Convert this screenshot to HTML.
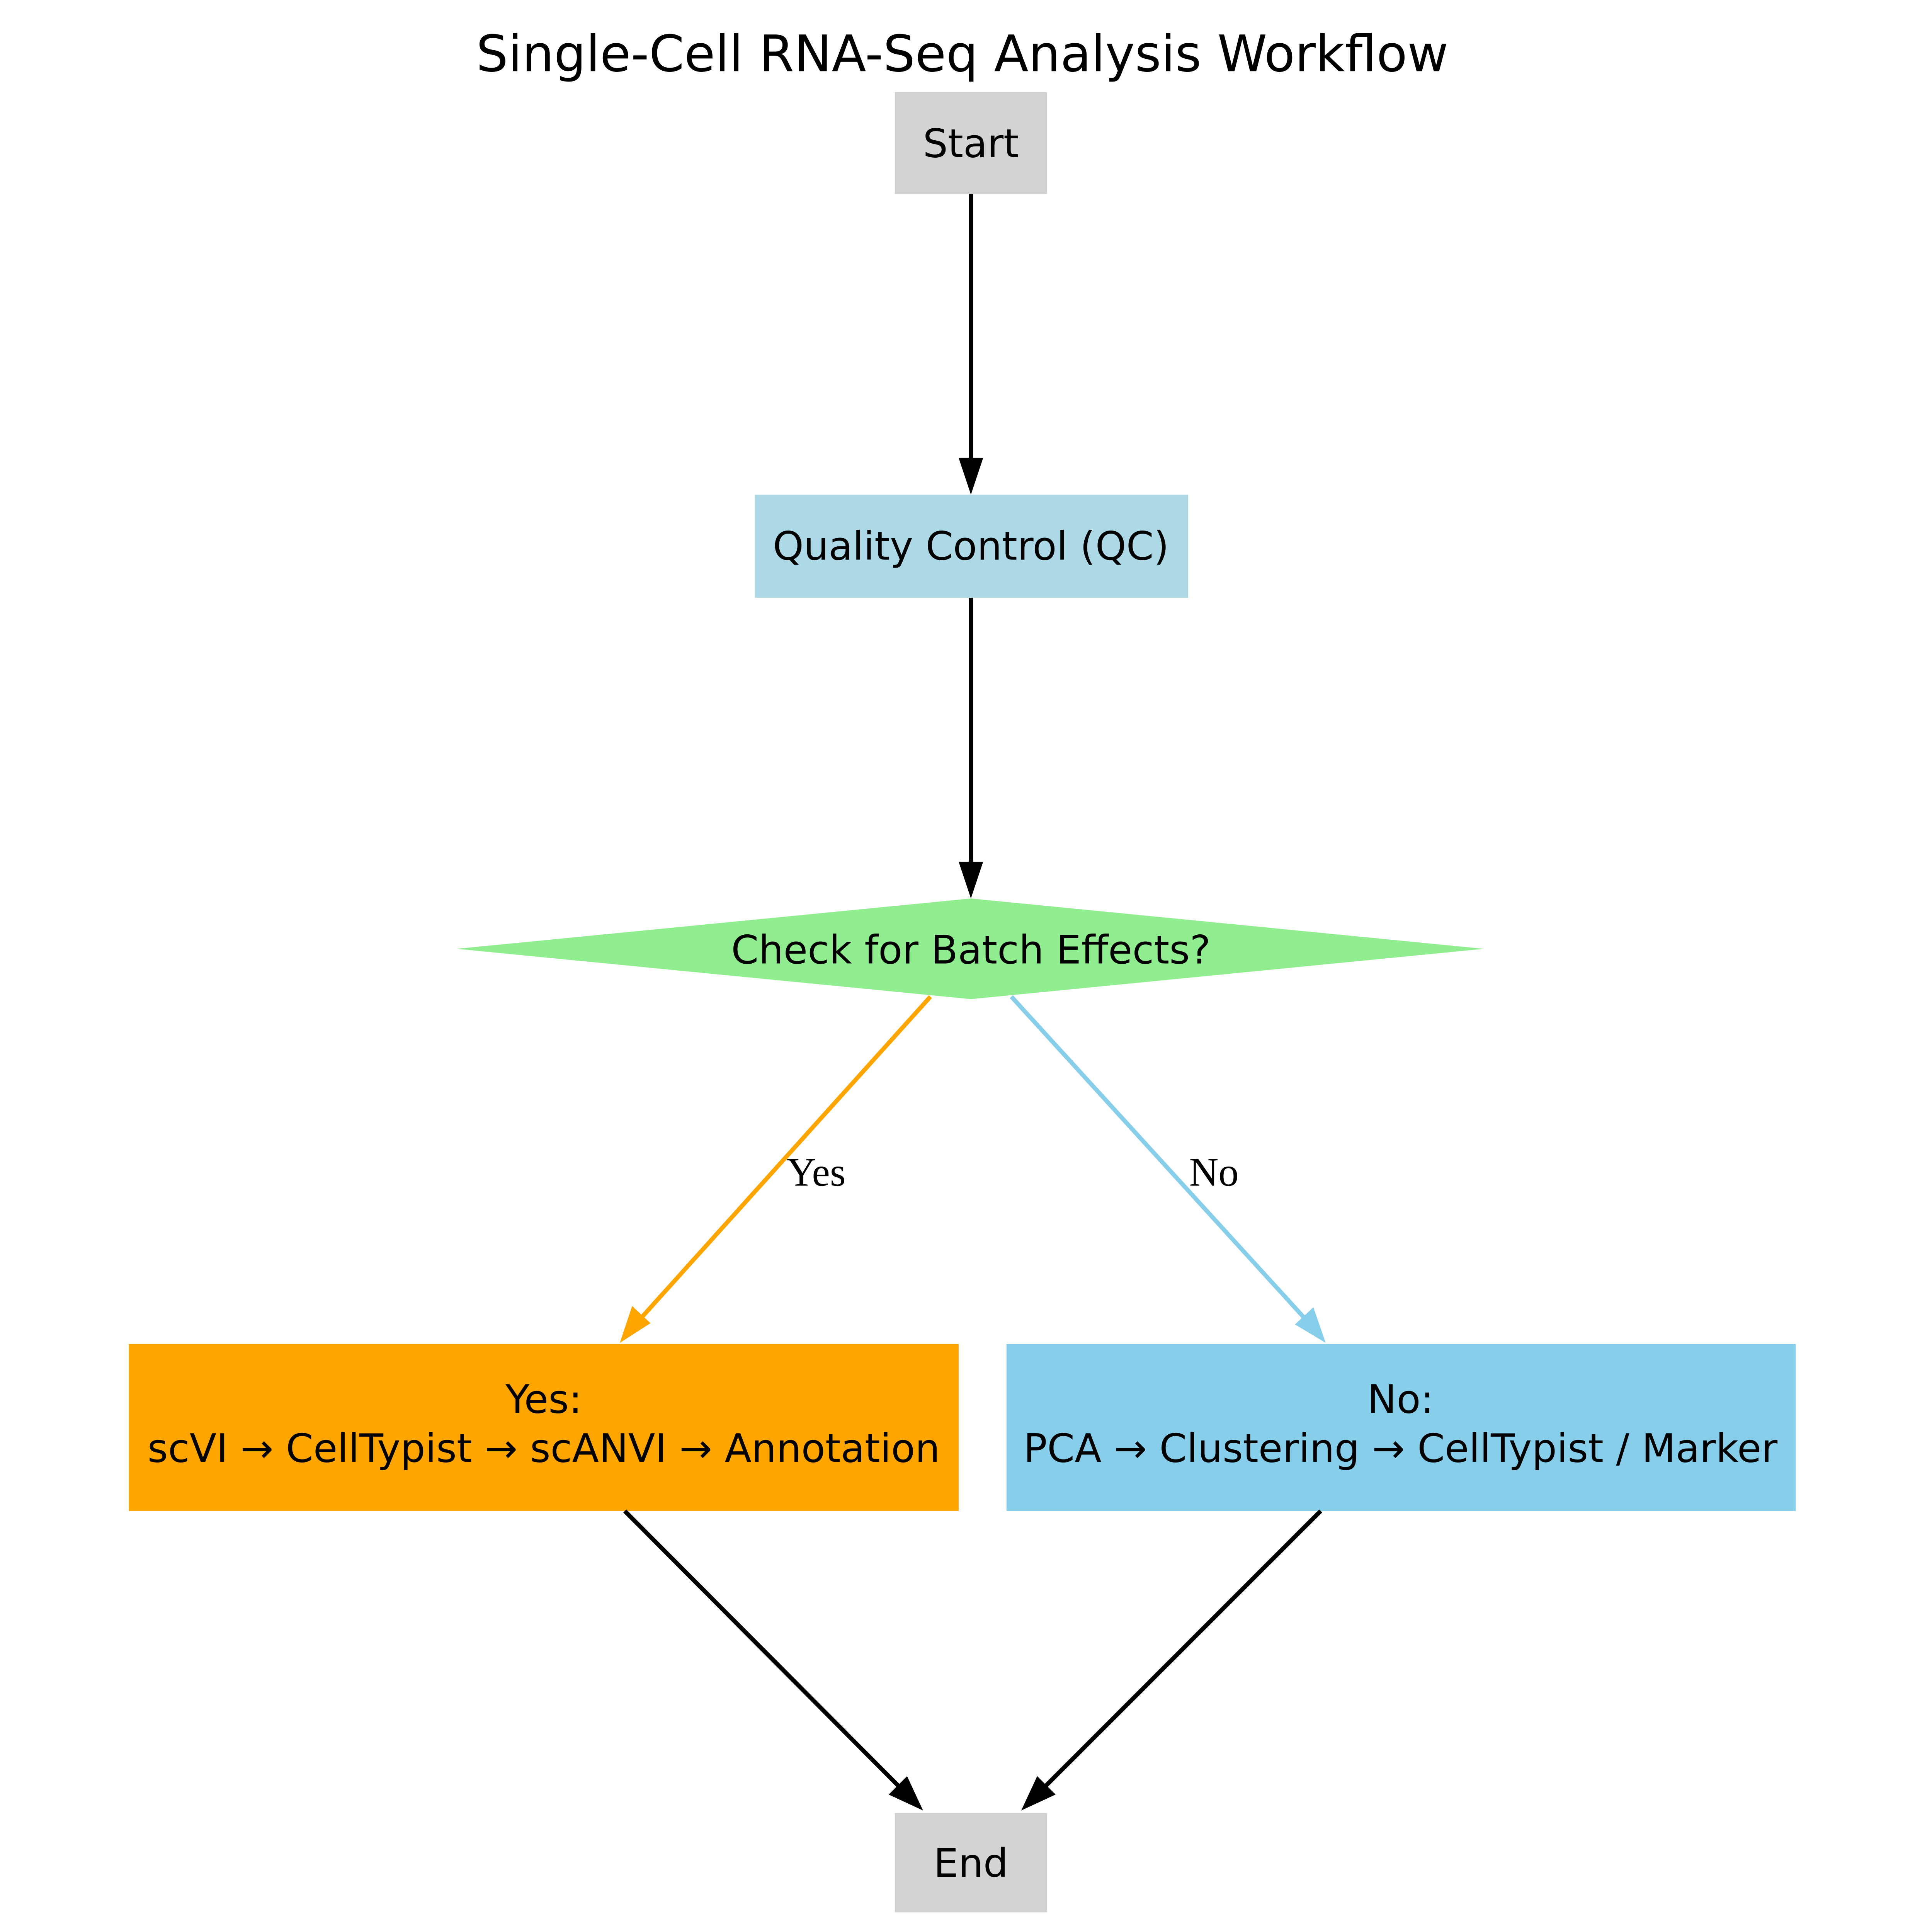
<!DOCTYPE html>
<html><head><meta charset="utf-8"><style>html,body{margin:0;padding:0;background:#fff;width:100%;height:100%;overflow:hidden}svg{display:block;width:100vw;height:100vh;position:absolute;left:0;top:0}</style></head>
<body>
<svg viewBox="0 0 1380 1574" preserveAspectRatio="xMidYMid meet" xmlns="http://www.w3.org/2000/svg">
<rect width="1380" height="1574" fill="#fff"/>
<g font-family="DejaVu Sans, Liberation Sans, sans-serif" text-anchor="middle">
<text x="687" y="58" font-size="41">Single-Cell RNA-Seq Analysis Workflow</text>
<rect x="632" y="75" width="124" height="83" fill="#d3d3d3"/>
<text x="694" y="128" font-size="32">Start</text>
<rect x="518" y="403" width="353" height="84" fill="#add8e6"/>
<text x="694" y="456" font-size="32">Quality Control (QC)</text>
<polygon points="694,732 1112,773 694,814 275,773" fill="#90ee90"/>
<text x="694" y="785" font-size="32">Check for Batch Effects?</text>
<rect x="8" y="1095" width="676" height="136" fill="#ffa500"/>
<text x="346" y="1151" font-size="32">Yes:</text>
<text x="346" y="1191" font-size="32">scVI → CellTypist → scANVI → Annotation</text>
<rect x="723" y="1095" width="643" height="136" fill="#87ceeb"/>
<text x="1044" y="1151" font-size="32">No:</text>
<text x="1044" y="1191" font-size="32">PCA → Clustering → CellTypist / Marker</text>
<rect x="632" y="1477" width="124" height="81" fill="#d3d3d3"/>
<text x="694" y="1529" font-size="32">End</text>
</g>
<g stroke-width="3.5" fill="none">
<line x1="694" y1="158" x2="694" y2="375" stroke="#000"/>
<polygon points="684,373 704,373 694,403" fill="#000" stroke="none"/>
<line x1="694" y1="487" x2="694" y2="704" stroke="#000"/>
<polygon points="684,702 704,702 694,732" fill="#000" stroke="none"/>
<line x1="661" y1="812" x2="426" y2="1073" stroke="#ffa500"/>
<polygon points="418,1064 433,1078 408,1094" fill="#ffa500" stroke="none"/>
<line x1="727" y1="812" x2="965" y2="1073" stroke="#87ceeb"/>
<polygon points="958,1079 973,1065 983,1094" fill="#87ceeb" stroke="none"/>
<line x1="412" y1="1231" x2="635" y2="1455" stroke="#000"/>
<polygon points="627,1462 642,1447 655,1475" fill="#000" stroke="none"/>
<line x1="979" y1="1231" x2="755" y2="1455" stroke="#000"/>
<polygon points="748,1447 763,1462 735,1475" fill="#000" stroke="none"/>
</g>
<g font-family="Liberation Serif, DejaVu Serif, serif" font-size="33" text-anchor="middle">
<text x="568" y="966">Yes</text>
<text x="892" y="966">No</text>
</g>
</svg>
</body></html>
